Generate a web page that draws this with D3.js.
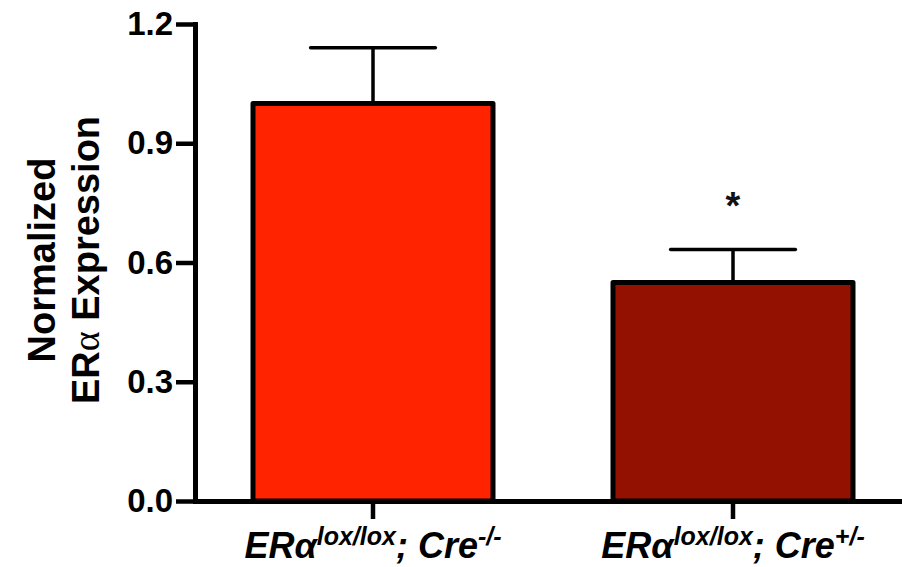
<!DOCTYPE html>
<html>
<head>
<meta charset="utf-8">
<script src="https://cdn.jsdelivr.net/npm/d3@7"></script>
<style>
  html, body { margin: 0; padding: 0; background: #fff; }
  svg { display: block; }
  text { font-family: "Liberation Sans", Arial, Helvetica, sans-serif; }
</style>
</head>
<body>
<svg id="chart" width="902" height="567"></svg>
<script>
// Groups, means and upper error (SEM) values
const groups = ["Cre-/-", "Cre+/-"];
const means = [1.0, 0.55];
const errors = [0.14, 0.083];
const barColors = ["#ff2300", "#931100"];
const significance = ["", "*"];
const yTicks = [0.0, 0.3, 0.6, 0.9, 1.2];
// Genotype label parts: [base, superscript, separator, base, superscript]
const xLabelParts = [
  ["ERα", "lox/lox", "; ", "Cre", "-/-"],
  ["ERα", "lox/lox", "; ", "Cre", "+/-"]
];

const svg = d3.select("#chart");

const y = d3.scaleLinear().domain([0, 1.2]).range([501, 24]);
const x = d3.scaleBand().domain(groups).range([193, 913])
  .paddingInner(1 / 3).paddingOuter(1 / 6);

// Bars
svg.append("g").selectAll("rect")
  .data(groups)
  .join("rect")
  .attr("x", d => x(d))
  .attr("y", (d, i) => y(means[i]))
  .attr("width", x.bandwidth())
  .attr("height", (d, i) => y(0) - y(means[i]))
  .attr("fill", (d, i) => barColors[i])
  .attr("stroke", "#000")
  .attr("stroke-width", 5)
  .attr("stroke-linejoin", "round");

// Error bars (upper only)
const capHalf = x.bandwidth() * 0.26;
const eb = svg.append("g").attr("stroke", "#000").attr("stroke-width", 3.5);
groups.forEach((g, i) => {
  const cx = x(g) + x.bandwidth() / 2;
  eb.append("line")
    .attr("x1", cx).attr("x2", cx)
    .attr("y1", y(means[i])).attr("y2", y(means[i] + errors[i]));
  eb.append("line")
    .attr("x1", cx - capHalf).attr("x2", cx + capHalf)
    .attr("y1", y(means[i] + errors[i])).attr("y2", y(means[i] + errors[i]))
    .attr("stroke-linecap", "round");
});

// Significance marks
svg.append("g").selectAll("text")
  .data(groups)
  .join("text")
  .attr("x", d => x(d) + x.bandwidth() / 2)
  .attr("y", (d, i) => y(means[i] + errors[i]) - 30)
  .attr("text-anchor", "middle")
  .attr("font-size", 38)
  .attr("font-weight", "bold")
  .attr("fill", "#111")
  .text((d, i) => significance[i]);

// Y axis
const yAxis = svg.append("g")
  .attr("transform", "translate(195,0)")
  .call(d3.axisLeft(y).tickValues(yTicks).tickFormat(d3.format(".1f"))
    .tickSize(19).tickSizeOuter(0).tickPadding(3));
yAxis.select(".domain").attr("stroke-width", 5).attr("stroke-linecap", "square");
yAxis.selectAll(".tick line").attr("stroke-width", 4.5);
yAxis.selectAll(".tick text")
  .attr("font-size", 33).attr("font-weight", "bold").attr("fill", "#000")
  .attr("font-family", "'Liberation Sans', Arial, sans-serif");

// X axis
const xAxis = svg.append("g")
  .attr("transform", "translate(0,501)")
  .call(d3.axisBottom(x).tickSize(18).tickSizeOuter(0).tickFormat(""));
xAxis.select(".domain").attr("stroke-width", 5);
xAxis.selectAll(".tick line").attr("stroke-width", 4.5);

// X category labels with superscripts
const xl = svg.append("g").selectAll("text")
  .data(groups)
  .join("text")
  .attr("x", d => x(d) + x.bandwidth() / 2)
  .attr("y", 558)
  .attr("text-anchor", "middle")
  .attr("font-weight", "bold")
  .attr("font-style", "italic")
  .attr("font-size", 36)
  .attr("fill", "#000");
xl.each(function (d, i) {
  const t = d3.select(this);
  const p = xLabelParts[i];
  t.append("tspan").text(p[0]);
  t.append("tspan").attr("font-size", 25).attr("dy", -13).text(p[1]);
  t.append("tspan").attr("dy", 13).text(p[2]);
  t.append("tspan").text(p[3]);
  t.append("tspan").attr("font-size", 25).attr("dy", -13).text(p[4]);
});

// Y axis title
const yt = svg.append("text")
  .attr("transform", "translate(0,260) rotate(-90)")
  .attr("text-anchor", "middle")
  .attr("font-weight", "bold")
  .attr("font-size", 38)
  .attr("fill", "#000");
yt.append("tspan").attr("x", 0).attr("y", 55).text("Normalized");
const l2 = yt.append("tspan").attr("x", 0).attr("y", 99);
l2.append("tspan").text("ER");
l2.append("tspan").attr("font-weight", "normal")
  .attr("font-family", "'Liberation Serif', 'DejaVu Serif', serif").text("α");
l2.append("tspan").text(" Expression");
</script>
</body>
</html>
